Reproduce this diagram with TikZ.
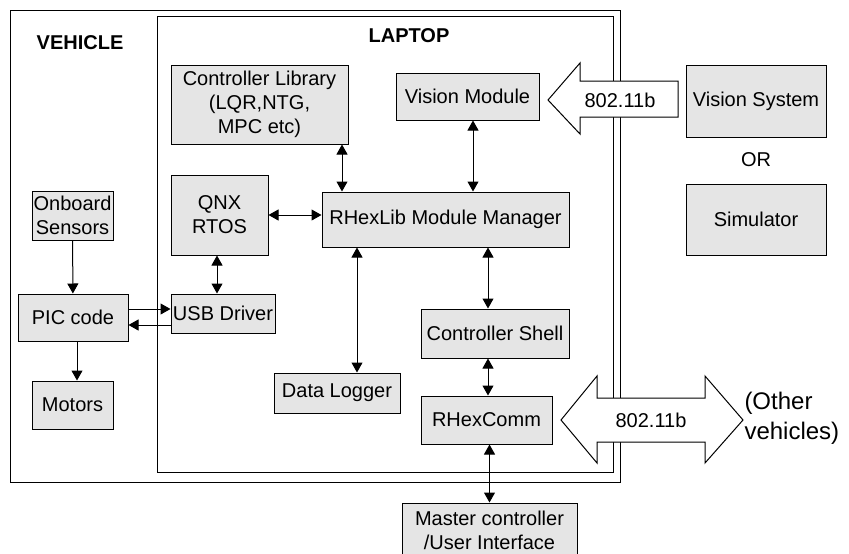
\documentclass[tikz,border=0pt]{standalone}
\usepackage{fontspec}
\setmainfont{Liberation Sans}
\usetikzlibrary{arrows.meta}

\begin{document}
\begin{tikzpicture}[x=1pt, y=-1pt, line width=1pt, >={Triangle[length=10pt,width=11pt]},
  every node/.style={inner sep=0pt, text centered, align=center, font=\fontsize{20}{24}\selectfont},
  blk/.style={draw, rectangle, fill=black!10},
  title/.style={font=\fontsize{20}{24}\selectfont\bfseries},
  fat/.style={draw, fill=white, line join=miter}]

  \useasboundingbox (0,0) rectangle (849,554);

  % Frames
  \draw (10,10) rectangle (620,482);
  \draw (157,16) rectangle (613,472);
  \node[title] (vehtitle) at (80,43) {VEHICLE};
  \node[title] (laptitle) at (409,36) {LAPTOP};

  % Nodes
  \node[blk, minimum width=177pt, minimum height=79pt] (ctrllib) at (259.5,104.5) {Controller Library\\(LQR,NTG,\\MPC etc)};
  \node[blk, minimum width=143pt, minimum height=47pt] (vision) at (467.5,96.5) {Vision Module};
  \node[blk, minimum width=97pt, minimum height=80pt] (qnx) at (219.5,215) {QNX\\RTOS};
  \node[blk, minimum width=247pt, minimum height=55pt] (manager) at (445.5,219.5) {RHexLib Module Manager};
  \node[blk, minimum width=81pt, minimum height=49pt] (sensors) at (72.5,215.5) {Onboard\\Sensors};
  \node[blk, minimum width=110pt, minimum height=47pt] (pic) at (73,317.5) {PIC code};
  \node[blk, minimum width=104pt, minimum height=39pt] (usb) at (223,313.5) {USB Driver};
  \node[blk, minimum width=81pt, minimum height=48pt] (motors) at (72.5,405) {Motors};
  \node[blk, minimum width=126pt, minimum height=40pt] (logger) at (337,393) {Data Logger};
  \node[blk, minimum width=148pt, minimum height=49pt] (shell) at (495,333.5) {Controller Shell};
  \node[blk, minimum width=131pt, minimum height=48pt] (comm) at (486.5,420) {RHexComm};
  \node[blk, minimum width=175pt, minimum height=55pt] (master) at (489.5,530.5) {Master controller\\/User Interface};
  \node[blk, minimum width=140pt, minimum height=72pt] (vsys) at (756,101) {Vision System};
  \node (or) at (756,160) {OR};
  \node[blk, minimum width=140pt, minimum height=71pt] (sim) at (756,219.5) {Simulator};

  % Wireless links
  \draw[fat] (548,100) -- (580,63) -- (580,81) -- (678,81) -- (678,117) -- (580,117) -- (580,134) -- cycle;
  \node (wifivis) at (620,100) {802.11b};
  \draw[fat] (561,420) -- (597,376) -- (597,398) -- (705,398) -- (705,376) -- (743,420)
    -- (705,463) -- (705,442) -- (597,442) -- (597,463) -- cycle;
  \node (wificomm) at (651,420) {802.11b};
  \node[anchor=west, align=left, font=\fontsize{24}{30}\selectfont] (others) at (744,418) {(Other\\vehicles)};

  % Arrows
  \draw[->] (sensors) -- (pic);
  \draw[->] ([xshift=4pt]pic.south) -- ([xshift=4pt]pic.south |- motors.north);
  \draw[->] ([yshift=8.5pt]pic.east) -- ([yshift=8.5pt]pic.east -| usb.west);
  \draw[->] ([yshift=-7.5pt]pic.east -| usb.west) -- ([yshift=-7.5pt]pic.east);
  \draw[<->] ([xshift=-2.5pt]qnx.south) -- ([xshift=-2.5pt]qnx.south |- usb.north);
  \draw[<->] (qnx.east) -- (qnx.east -| manager.west);
  \draw[<->] ([xshift=82.5pt]ctrllib.south) -- ([xshift=82.5pt]ctrllib.south |- manager.north);
  \draw[<->] ([xshift=5.5pt]vision.south) -- ([xshift=5.5pt]vision.south |- manager.north);
  \draw[<->] ([xshift=20pt]logger.north |- manager.south) -- ([xshift=20pt]logger.north);
  \draw[<->] ([xshift=-7pt]shell.north |- manager.south) -- ([xshift=-7pt]shell.north);
  \draw[<->] ([xshift=1.5pt]comm.north |- shell.south) -- ([xshift=1.5pt]comm.north);
  \draw[<->] (master.north |- comm.south) -- (master.north);

\end{tikzpicture}
\end{document}
